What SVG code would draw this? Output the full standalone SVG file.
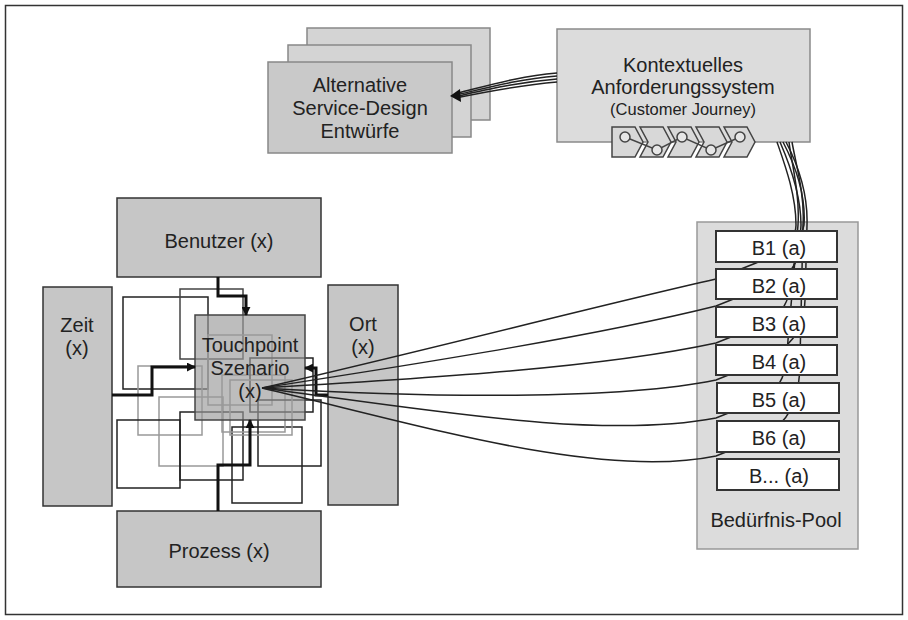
<svg xmlns="http://www.w3.org/2000/svg" width="908" height="620" viewBox="0 0 908 620">
<style>
text{font-family:"Liberation Sans",Arial,sans-serif;font-size:20px;fill:#222;text-anchor:middle}
.dk{fill:#c6c6c6;stroke:#333;stroke-width:1.5}
.lt{fill:#dcdcdc;stroke:#8a8a8a;stroke-width:1.5}
.card{fill:#d4d4d4;stroke:#888;stroke-width:1.5}
.b{fill:#fff;stroke:#333;stroke-width:2}
.sq{fill:none;stroke:#222;stroke-width:1.5}
.sg{fill:none;stroke:#999;stroke-width:1.5}
.fan{fill:none;stroke:#222;stroke-width:1.5}
.thick{fill:none;stroke:#111;stroke-width:3;marker-end:url(#ah)}
.chev{fill:#d8d8d8;stroke:#444;stroke-width:1.5}
.dot{fill:#e6e6e6;stroke:#444;stroke-width:1.5}
</style>
<defs>
<marker id="ah" viewBox="0 0 10 10" refX="9" refY="5" markerWidth="9" markerHeight="9" markerUnits="userSpaceOnUse" orient="auto"><path d="M0,0 L10,5 L0,10 Z" fill="#111"/></marker>
</defs>
<rect x="5.5" y="5.5" width="897" height="609" fill="#fff" stroke="#333" stroke-width="1.5"/>

<g id="alternative-entwuerfe">
<rect class="card" x="307" y="28" width="183" height="92"/>
<rect class="card" x="288" y="45" width="183" height="92"/>
<rect class="card" x="268" y="62" width="184" height="91" style="fill:#c9c9c9"/>
<text x="360" y="92">Alternative</text>
<text x="360" y="115">Service-Design</text>
<text x="360" y="138">Entwürfe</text>
</g>

<g id="kontext">
<rect class="lt" x="557" y="29" width="253" height="113"/>
<text x="683" y="72">Kontextuelles</text>
<text x="683" y="94">Anforderungssystem</text>
<text x="683" y="115" style="font-size:16.5px">(Customer Journey)</text>
<path class="chev" d="M612,127 H635 L643,142 L635,157 H612 Z"/>
<path class="chev" d="M640,127 H663 L671,142 L663,157 H640 L648,142 Z"/>
<path class="chev" d="M668,127 H691 L699,142 L691,157 H668 L676,142 Z"/>
<path class="chev" d="M696,127 H719 L727,142 L719,157 H696 L704,142 Z"/>
<path class="chev" d="M724,127 H747 L755,142 L747,157 H724 L732,142 Z"/>
<path d="M625,137 L657,150 L682,137 L711,150 L740,137" fill="none" stroke="#444" stroke-width="1.5"/>
<circle class="dot" cx="625" cy="137" r="5"/>
<circle class="dot" cx="657" cy="150" r="5"/>
<circle class="dot" cx="682" cy="137" r="5"/>
<circle class="dot" cx="711" cy="150" r="5"/>
<circle class="dot" cx="740" cy="137" r="5"/>
</g>

<g id="pool">
<rect class="lt" x="697" y="222" width="161" height="327" style="stroke:#999"/>
<text x="776" y="527">Bedürfnis-Pool</text>
</g>

<g id="benutzer"><rect class="dk" x="117" y="198" width="204" height="79"/><text x="219" y="248">Benutzer (x)</text></g>
<g id="zeit"><rect class="dk" x="43" y="287" width="69" height="219"/><text x="77" y="332">Zeit</text><text x="77" y="355">(x)</text></g>
<g id="ort"><rect class="dk" x="328" y="285" width="70" height="220"/><text x="363" y="331">Ort</text><text x="363" y="354">(x)</text></g>
<g id="prozess"><rect class="dk" x="117" y="511" width="204" height="76"/><text x="219" y="558">Prozess (x)</text></g>

<g id="szenario-varianten">
<rect class="sq" x="123" y="297" width="85" height="92"/>
<rect class="sq" x="180" y="289" width="63" height="70" style="stroke:#444"/>
<rect class="sg" x="138" y="366" width="64" height="69"/>
<rect class="sg" x="159" y="397" width="64" height="69"/>
<rect class="sq" x="117" y="420" width="63" height="68"/>
<rect class="sq" x="180" y="412" width="63" height="68"/>
<rect class="sq" x="232" y="427" width="70" height="76"/>
<rect class="sg" x="208" y="335" width="64" height="70"/>
<rect class="sg" x="222" y="375" width="63" height="57"/>
<rect class="sq" x="250" y="358" width="63" height="54"/>
<rect class="sq" x="258" y="400" width="63" height="66"/>
<rect class="sg" x="230" y="380" width="62" height="55"/>
</g>

<g id="touchpoint">
<rect x="195" y="315" width="110" height="105" fill="#999" fill-opacity="0.65" stroke="#444" stroke-width="1.5"/>
<text x="250" y="352">Touchpoint</text>
<text x="250" y="375">Szenario</text>
<text x="250" y="398">(x)</text>
</g>

<g id="connectors">
<path class="thick" d="M218,277 V296 H246 V315"/>
<path class="thick" d="M112,395 H152 V367 H195"/>
<path class="thick" d="M218,511 V465 H250 V420"/>
<path class="thick" d="M328,395 H316 V368 H305"/>
<path class="fan" d="M557,73 C520,76 490,85 458,93"/>
<path class="fan" d="M557,76 C520,79 490,87 458,94.5"/>
<path class="fan" d="M557,79 C520,82 490,89 458,96"/>
<path class="fan" d="M557,82 C520,85 490,91 458,97.5"/>
<polygon points="450,96 460,89 461,102" fill="#111"/>
<path class="fan" d="M262,388 C420,352 600,305 716,279 L756,263 C790,250 796,235 796,225 C796,195 785,165 777,142"/>
<path class="fan" d="M262,388 C430,362 600,335 716,306 L756,290 C790,278 800,265 800,240 L801,225 C801,195 790,165 780,142"/>
<path class="fan" d="M262,388 C430,378 600,368 716,343 L756,327 C785,315 790,300 790,280 L804,225 C806,195 795,165 783,142"/>
<path class="fan" d="M262,388 C430,398 620,400 716,380 L756,364 C790,350 805,330 805,300 L807,225 C808,195 798,165 786,142"/>
<path class="fan" d="M262,388 C430,410 600,440 716,418 L756,402 C785,390 786,370 788,340 L798,225 C800,195 792,165 789,142"/>
<path class="fan" d="M262,388 C420,425 600,480 716,456 L756,440 C790,425 800,400 800,360 L803,225 C805,195 796,165 792,142"/>
</g>

<g id="b1"><rect class="b" x="716" y="231" width="121" height="31"/><text x="779" y="255">B1 (a)</text></g>
<g id="b2"><rect class="b" x="716" y="269" width="121" height="30"/><text x="779" y="293">B2 (a)</text></g>
<g id="b3"><rect class="b" x="716" y="307" width="121" height="30"/><text x="779" y="331">B3 (a)</text></g>
<g id="b4"><rect class="b" x="716" y="345" width="121" height="30"/><text x="779" y="369">B4 (a)</text></g>
<g id="b5"><rect class="b" x="717" y="383" width="122" height="30"/><text x="779" y="407">B5 (a)</text></g>
<g id="b6"><rect class="b" x="717" y="421" width="122" height="31"/><text x="779" y="445">B6 (a)</text></g>
<g id="bn"><rect class="b" x="717" y="459" width="122" height="31"/><text x="779" y="483">B... (a)</text></g>
</svg>
